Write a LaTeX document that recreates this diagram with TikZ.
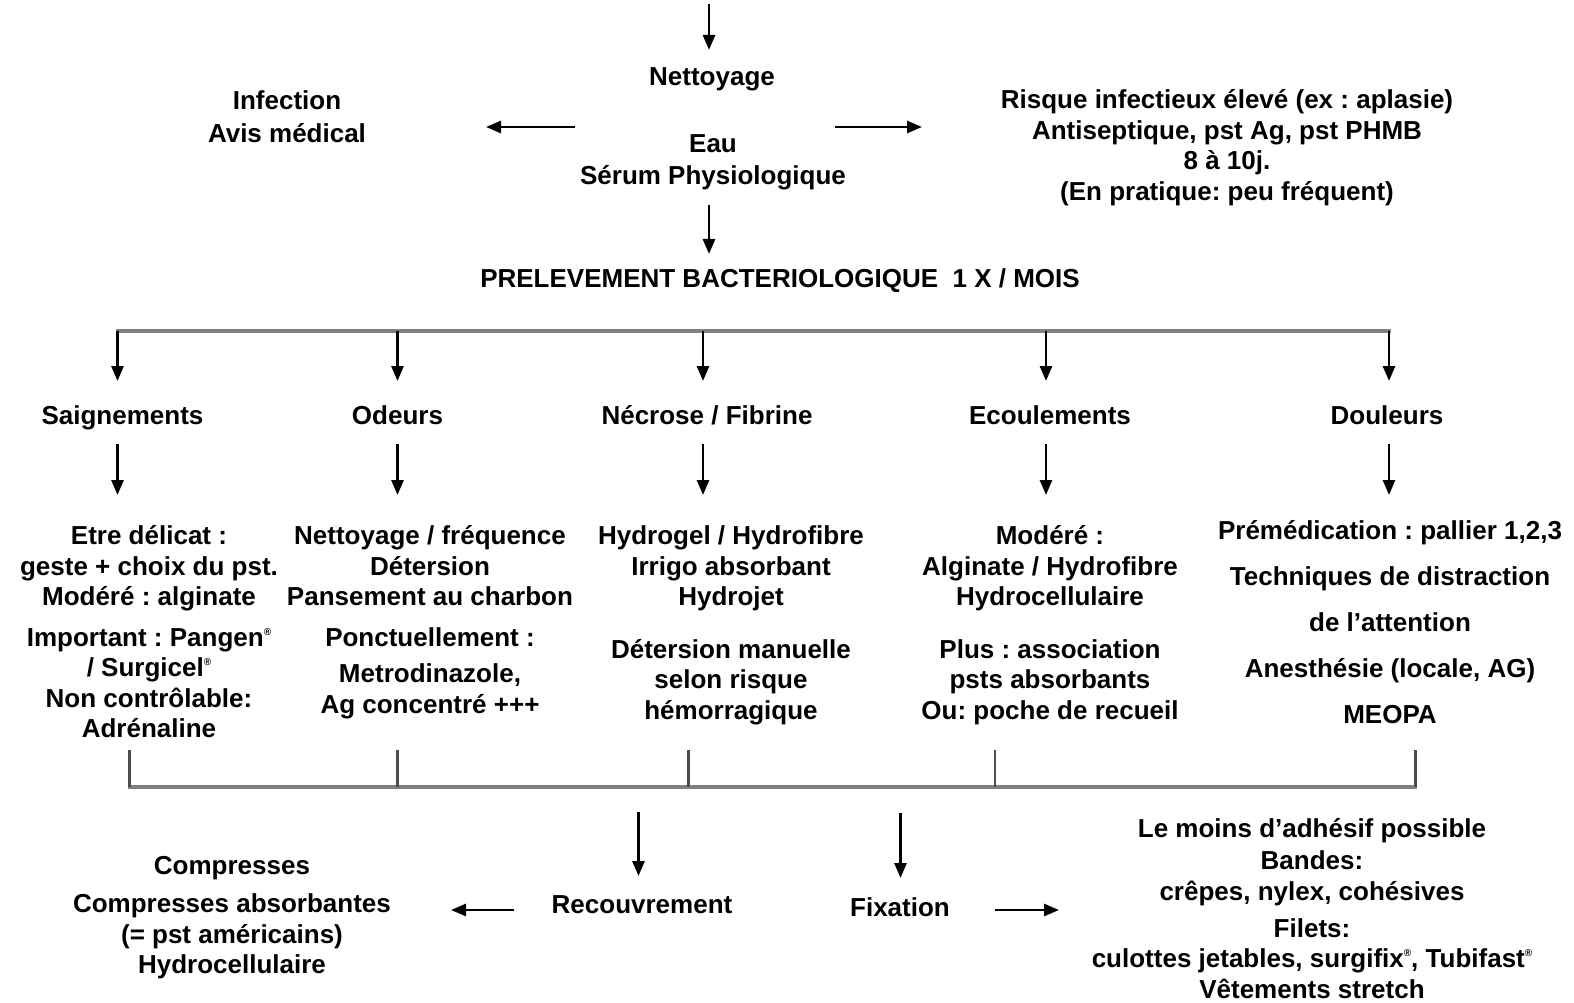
\documentclass[tikz,border=0pt]{standalone}
\usepackage{fontspec}
\setmainfont{Liberation Sans}
\usetikzlibrary{arrows.meta}
\frenchspacing
\newcommand\fl{\rule{0pt}{21pt}}
\newcommand\regm{{\fontsize{10}{10}\selectfont\raisebox{11pt}{®}}}
\tikzset{
  txt/.style={anchor=north, inner sep=0pt, align=center,
    font=\fontsize{26}{30.5}\selectfont\bfseries},
  arr/.style={draw=black, line width=2.8pt,
    -{Triangle[length=15pt,width=12pt]}},
  bar/.style={draw=black!50, line width=3.5pt},
  tick/.style={draw=black!70, line width=2.5pt},
}
\begin{document}
\begin{tikzpicture}[x=1pt,y=-1pt]
\useasboundingbox (0,0) rectangle (1574,1003);
\fill[white] (0,0) rectangle (1574,1003);

% top
\node[txt] (nett) at (712,64.5) {\fl Nettoyage};
\node[txt] (eau) at (713,131.5) {\fl Eau\\[1.5pt]Sérum Physiologique};
\node[txt] (inf) at (287,88.5) {\fl Infection\\[2pt]Avis médical};
\node[txt] (risk) at (1227,87.5) {\fl Risque infectieux élevé (ex : aplasie)\\Antiseptique, pst Ag, pst PHMB\\8 à 10j.\\(En pratique: peu fréquent)};
\node[txt] (prel) at (780,266.5) {\fl PRELEVEMENT BACTERIOLOGIQUE\ \ 1 X / MOIS};

\coordinate (t0) at (709,4);
\coordinate (t1) at (709,50);
\draw[arr] (t0) -- (t1);
\coordinate (l0) at (575,127);
\coordinate (l1) at (486,127);
\draw[arr] (l0) -- (l1);
\coordinate (r0) at (835,127);
\coordinate (r1) at (922,127);
\draw[arr] (r0) -- (r1);
\coordinate (m0) at (709,205);
\coordinate (m1) at (709,254);
\draw[arr] (m0) -- (m1);

% categories
\node[txt] (c1) at (122.5,403.5) {\fl Saignements};
\node[txt] (c2) at (397.5,403.5) {\fl Odeurs};
\node[txt] (c3) at (707,403.5) {\fl Nécrose / Fibrine};
\node[txt] (c4) at (1050,403.5) {\fl Ecoulements};
\node[txt] (c5) at (1387,403.5) {\fl Douleurs};

\coordinate (b1) at (117.5,331);
\coordinate (b2) at (397.5,331);
\coordinate (b3) at (703,331);
\coordinate (b4) at (1046,331);
\coordinate (b5) at (1389,331);
\draw[bar] ([xshift=-1.5pt]b1) -- ([xshift=1.5pt]b5);
\foreach \i in {1,...,5} {
  \coordinate (d\i) at ([yshift=-50pt]b\i);
  \draw[arr] (b\i) -- (d\i);
  \coordinate (e\i) at ([yshift=-113pt]b\i);
  \coordinate (f\i) at ([yshift=-164pt]b\i);
  \draw[arr] (e\i) -- (f\i);
}

% detail blocks
\node[txt] (s1) at (149,523.5) {\fl Etre délicat :\\geste + choix du pst.\\Modéré : alginate\\[10pt]Important : Pangen\regm\\/ Surgicel\regm\\Non contrôlable:\\Adrénaline};
\node[txt] (s2) at (430,523.5) {\fl Nettoyage / fréquence\\Détersion\\Pansement au charbon\\[10pt]Ponctuellement :\\[6pt]Metrodinazole,\\Ag concentré +++};
\node[txt] (s3) at (731,523.5) {\fl Hydrogel / Hydrofibre\\Irrigo absorbant\\Hydrojet\\[22pt]Détersion manuelle\\selon risque\\hémorragique};
\node[txt] (s4) at (1050,523.5) {\fl Modéré :\\Alginate / Hydrofibre\\Hydrocellulaire\\[22pt]Plus : association\\psts absorbants\\Ou: poche de recueil};
\node[txt] (s5) at (1390,518.5) {\fl Prémédication : pallier 1,2,3\\[15.5pt]Techniques de distraction\\[15.5pt]de l'attention\\[15.5pt]Anesthésie (locale, AG)\\[15.5pt]MEOPA};

% bottom collector
\coordinate (g1) at (129.5,787);
\coordinate (g2) at (397.5,787);
\coordinate (g3) at (688.5,787);
\coordinate (g4) at (995,787);
\coordinate (g5) at (1415.5,787);
\draw[bar] ([xshift=-1.2pt]g1) -- ([xshift=1.2pt]g5);
\foreach \i in {1,...,5} {
  \coordinate (h\i) at ([yshift=37pt]g\i);
  \draw[tick] (h\i) -- (g\i);
}

% bottom row
\node[txt] (rec) at (642,892.5) {\fl Recouvrement};
\node[txt] (fix) at (900,895.5) {\fl Fixation};
\node[txt] (comp) at (232,853.5) {\fl Compresses\\[7.5pt]Compresses absorbantes\\(= pst américains)\\Hydrocellulaire};
\node[txt] (fixt) at (1312,816.5) {\fl Le moins d'adhésif possible\\[1.5pt]Bandes:\\crêpes, nylex, cohésives\\[6.5pt]Filets:\\culottes jetables, surgifix\regm, Tubifast\regm\\Vêtements stretch};

\coordinate (p0) at (638.5,812);
\coordinate (p1) at (638.5,876);
\draw[arr] (p0) -- (p1);
\coordinate (q0) at (900.5,813);
\coordinate (q1) at (900.5,878);
\draw[arr] (q0) -- (q1);
\coordinate (u0) at (514,910);
\coordinate (u1) at (451,910);
\draw[arr] (u0) -- (u1);
\coordinate (v0) at (995,910);
\coordinate (v1) at (1059,910);
\draw[arr] (v0) -- (v1);
\end{tikzpicture}
\end{document}
